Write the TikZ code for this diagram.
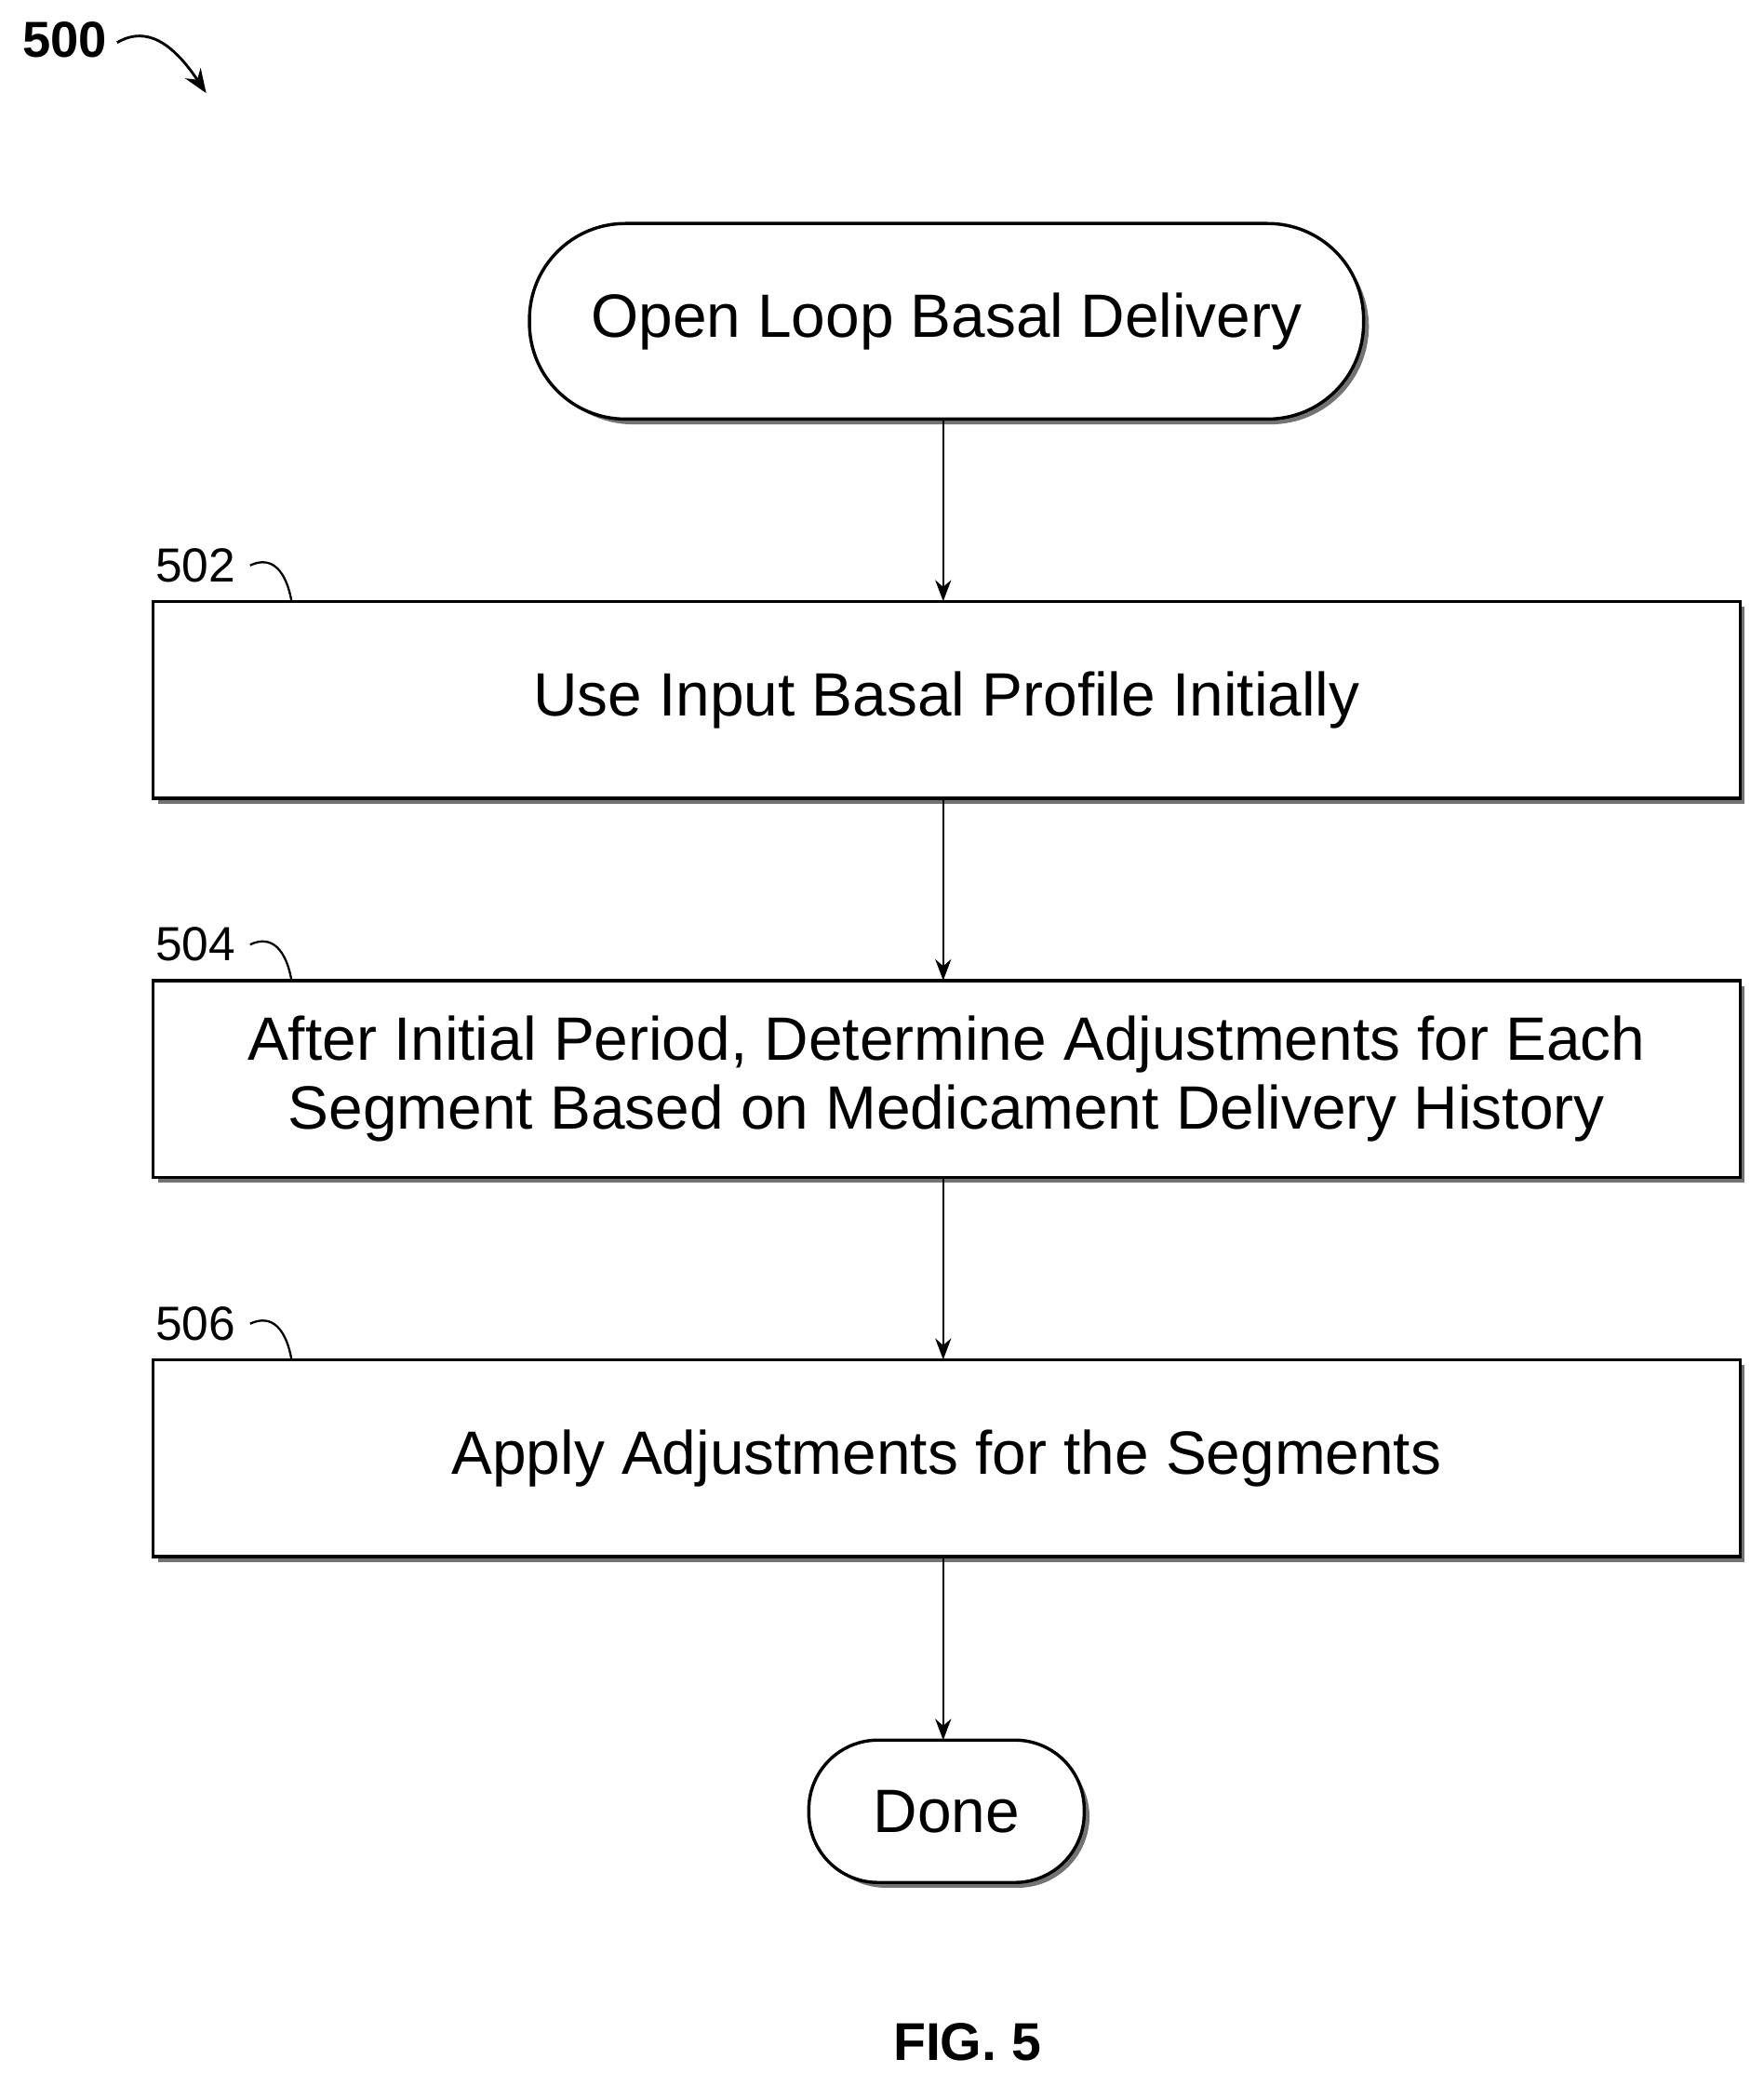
\documentclass[tikz,border=0pt]{standalone}
\usepackage{fontspec}
\setmainfont{Liberation Sans}
\usetikzlibrary{arrows.meta}
\begin{document}
\begin{tikzpicture}[x=0.5pt,y=-0.5pt,
  box/.style={draw,line width=1.2pt,fill=white,font=\fontsize{23}{26}\selectfont,align=center,inner sep=0pt},
  shadow/.style={fill=black!55},
  term/.style={box,rounded corners=36pt},
  arr/.style={line width=0.8pt,-{Stealth[length=8pt,width=6pt]}},
  lbl/.style={font=\fontsize{18}{20}\selectfont},
  hook/.style={line width=0.8pt}]
\useasboundingbox (0,0) rectangle (1326,1568);
% shadows
\fill[shadow,rounded corners=37pt] (402,172) rectangle (1029,319);
\fill[shadow] (119,456) rectangle (1311,604);
\fill[shadow] (119,741) rectangle (1311,889);
\fill[shadow] (119,1026) rectangle (1311,1174);
\fill[shadow,rounded corners=27pt] (612,1312) rectangle (819,1419);
% nodes
\node[term,minimum width=313.5pt,minimum height=73.5pt] (start) at (711.5,241.5) {Open Loop Basal Delivery};
\node[box,minimum width=596.5pt,minimum height=74pt] (b502) at (711.5,526) {Use Input Basal Profile Initially};
\node[box,minimum width=596.5pt,minimum height=74pt] (b504) at (711.5,811) {After Initial Period, Determine Adjustments for Each\\Segment Based on Medicament Delivery History};
\node[box,minimum width=596.5pt,minimum height=74pt] (b506) at (711.5,1096) {Apply Adjustments for the Segments};
\node[box,rounded corners=26pt,minimum width=103.5pt,minimum height=53.5pt] (done) at (711.5,1361.5) {Done};
% arrows
\draw[arr] (start.south -| 709,0) -- (709,452) coordinate (t1);
\draw[arr] (709,600) -- (709,737);
\draw[arr] (709,885) -- (709,1022);
\draw[arr] (709,1170) -- (709,1308);
% labels
\node[lbl,anchor=east] (l502) at (184,425) {502};
\node[lbl,anchor=east] (l504) at (184,710) {504};
\node[lbl,anchor=east] (l506) at (184,995) {506};
\foreach \yy in {425,710,995}
  \draw[hook] (188,\yy) .. controls (205,\yy-8) and (215,\yy+5) .. (219,\yy+26);
\node[font=\bfseries\fontsize{19}{20}\selectfont,anchor=west] (l500) at (10,30) {500};
\coordinate (a500) at (155,70);
\draw[line width=1pt,-{Stealth[length=9pt,width=7pt]}] (88,32) .. controls (105,22) and (125,25) .. (a500);
\node[font=\bfseries\fontsize{20}{22}\selectfont] (fig) at (727,1535) {FIG. 5};
\end{tikzpicture}
\end{document}
